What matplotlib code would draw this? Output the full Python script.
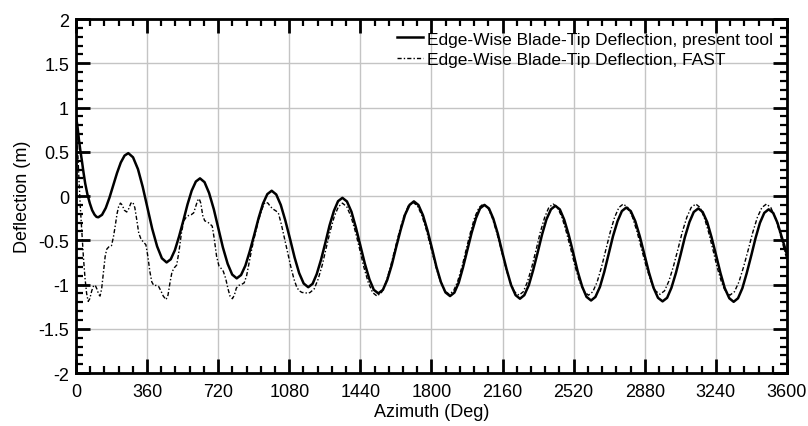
import matplotlib
matplotlib.use('Agg')
from matplotlib import pyplot as plt
from matplotlib.ticker import MultipleLocator

plt.rcParams['font.family'] = ['Liberation Sans', 'DejaVu Sans']
plt.rcParams['axes.unicode_minus'] = False

# edge-wise blade-tip deflection, present tool
tool_azimuth = [0, 7, 15, 22, 30, 38, 47, 58, 70, 82, 94, 104, 113,
                132, 151, 170, 189, 208, 227, 246, 265,
                289, 314, 338, 362, 386, 411, 435, 459,
                480, 501, 522, 544, 565, 586, 607, 628,
                651, 674, 698, 721, 744, 768, 791, 814,
                836, 858, 880, 903, 925, 947, 969, 991,
                1014, 1037, 1060, 1084, 1107, 1130, 1153, 1176,
                1198, 1219, 1241, 1263, 1284, 1306, 1327, 1349,
                1372, 1395, 1417, 1440, 1463, 1486, 1508, 1531,
                1554, 1576, 1599, 1621, 1644, 1666, 1689, 1711,
                1734, 1757, 1780, 1803, 1825, 1848, 1871, 1894,
                1916, 1938, 1959, 1981, 2003, 2025, 2046, 2068,
                2091, 2113, 2136, 2158, 2181, 2203, 2226, 2248,
                2270, 2293, 2315, 2338, 2360, 2382, 2405, 2427,
                2450, 2472, 2495, 2518, 2540, 2563, 2585, 2608,
                2630, 2653, 2675, 2697, 2719, 2742, 2764, 2786,
                2809, 2832, 2855, 2878, 2901, 2924, 2947, 2970,
                2993, 3015, 3038, 3061, 3083, 3106, 3128, 3151,
                3173, 3196, 3218, 3241, 3263, 3285, 3308, 3330,
                3352, 3374, 3396, 3419, 3441, 3463, 3485, 3507,
                3530, 3552, 3575, 3600]
tool_deflection = [0.90, 0.80, 0.64, 0.52, 0.40, 0.27, 0.14, 0.02, -0.08, -0.16, -0.21, -0.235, -0.24,
                   -0.212, -0.134, -0.016, 0.123, 0.261, 0.379, 0.457, 0.485,
                   0.438, 0.304, 0.104, -0.133, -0.369, -0.569, -0.703, -0.75,
                   -0.714, -0.611, -0.457, -0.275, -0.093, 0.061, 0.164, 0.20,
                   0.157, 0.035, -0.149, -0.365, -0.581, -0.765, -0.887, -0.93,
                   -0.892, -0.785, -0.624, -0.435, -0.246, -0.085, 0.022, 0.06,
                   0.018, -0.100, -0.276, -0.485, -0.694, -0.870, -0.988, -1.03,
                   -0.992, -0.882, -0.718, -0.525, -0.332, -0.168, -0.058, -0.02,
                   -0.061, -0.178, -0.353, -0.56, -0.767, -0.942, -1.059, -1.10,
                   -1.06, -0.948, -0.779, -0.58, -0.381, -0.212, -0.10, -0.06,
                   -0.101, -0.217, -0.39, -0.595, -0.80, -0.973, -1.089, -1.13,
                   -1.091, -0.979, -0.812, -0.615, -0.418, -0.251, -0.139, -0.10,
                   -0.14, -0.255, -0.427, -0.63, -0.833, -1.005, -1.12, -1.16,
                   -1.12, -1.006, -0.836, -0.635, -0.434, -0.264, -0.15, -0.11,
                   -0.151, -0.267, -0.44, -0.645, -0.85, -1.023, -1.139, -1.18,
                   -1.14, -1.026, -0.856, -0.655, -0.454, -0.284, -0.17, -0.13,
                   -0.17, -0.285, -0.457, -0.66, -0.863, -1.035, -1.15, -1.19,
                   -1.15, -1.036, -0.866, -0.665, -0.464, -0.294, -0.18, -0.14,
                   -0.18, -0.294, -0.466, -0.668, -0.869, -1.041, -1.155, -1.195,
                   -1.155, -1.042, -0.872, -0.673, -0.473, -0.303, -0.19, -0.15,
                   -0.19, -0.304, -0.474, -0.66]

# edge-wise blade-tip deflection, FAST
fast_azimuth = [0, 8, 15, 22, 30, 38, 46, 54, 62, 70, 80, 90, 98, 106, 115, 122,
                130, 140, 148, 156, 168, 180, 190, 200, 208, 216, 225, 234, 245, 257,
                268, 278, 288, 298, 308, 318, 330, 342, 354, 364, 374, 384, 394, 406,
                418, 430, 442, 456, 466, 476, 486, 498, 510, 522, 534, 546, 558, 570,
                584, 596, 606, 616, 624, 632, 642, 652, 664, 676, 690, 700, 712, 724,
                736, 746, 758, 770, 780, 792, 802, 812, 824, 838, 852, 864, 876, 890,
                904, 916, 928, 940, 952, 962, 972, 985, 1000, 1014, 1026, 1040, 1056,
                1072, 1088, 1104, 1118, 1130, 1145, 1160, 1172, 1185,
                1206, 1226, 1247, 1267, 1288, 1308, 1329, 1349,
                1371, 1393, 1415, 1437, 1458, 1480, 1502, 1524,
                1547, 1570, 1592, 1615, 1638, 1661, 1683, 1706,
                1729, 1752, 1775, 1798, 1821, 1844, 1867, 1890,
                1912, 1933, 1955, 1976, 1998, 2019, 2041, 2062,
                2085, 2107, 2130, 2153, 2175, 2198, 2220, 2243,
                2265, 2286, 2308, 2330, 2351, 2373, 2394, 2416,
                2438, 2461, 2483, 2506, 2528, 2550, 2573, 2595,
                2617, 2639, 2661, 2683, 2705, 2727, 2749, 2771,
                2794, 2818, 2841, 2864, 2887, 2911, 2934, 2957,
                2980, 3002, 3025, 3048, 3070, 3093, 3115, 3138,
                3160, 3181, 3203, 3225, 3246, 3268, 3289, 3311,
                3334, 3357, 3380, 3404, 3427, 3450, 3473, 3496,
                3518, 3541, 3563, 3600]
fast_deflection = [0.90, 0.55, 0.20, -0.12, -0.42, -0.70, -0.93, -1.10, -1.19, -1.16, -1.07, -1.01, -1.01, -1.05, -1.11, -1.13,
                   -1.05, -0.85, -0.68, -0.60, -0.57, -0.56, -0.46, -0.32, -0.20, -0.12, -0.08, -0.10, -0.16, -0.18,
                   -0.14, -0.08, -0.07, -0.13, -0.27, -0.42, -0.49, -0.52, -0.55, -0.68, -0.85, -0.97, -1.01, -1.01,
                   -1.02, -1.07, -1.13, -1.17, -1.12, -0.98, -0.86, -0.81, -0.78, -0.62, -0.42, -0.28, -0.24, -0.22,
                   -0.21, -0.19, -0.12, -0.05, -0.03, -0.08, -0.22, -0.28, -0.29, -0.31, -0.34, -0.48, -0.68, -0.79,
                   -0.82, -0.85, -0.93, -1.05, -1.13, -1.16, -1.12, -1.04, -1.01, -1.00, -0.98, -0.90, -0.76, -0.60,
                   -0.46, -0.35, -0.25, -0.16, -0.09, -0.07, -0.08, -0.12, -0.15, -0.17, -0.20, -0.32, -0.48,
                   -0.64, -0.80, -0.94, -1.03, -1.07, -1.09, -1.09, -1.10, -1.09,
                   -1.05, -0.94, -0.78, -0.585, -0.39, -0.23, -0.12, -0.08,
                   -0.12, -0.234, -0.404, -0.605, -0.806, -0.976, -1.09, -1.13,
                   -1.09, -0.975, -0.803, -0.60, -0.397, -0.225, -0.11, -0.07,
                   -0.11, -0.222, -0.391, -0.59, -0.789, -0.958, -1.07, -1.11,
                   -1.071, -0.961, -0.795, -0.60, -0.405, -0.239, -0.129, -0.09,
                   -0.129, -0.241, -0.408, -0.605, -0.802, -0.969, -1.081, -1.12,
                   -1.081, -0.969, -0.802, -0.605, -0.408, -0.241, -0.129, -0.09,
                   -0.129, -0.241, -0.408, -0.605, -0.802, -0.969, -1.081, -1.12,
                   -1.081, -0.969, -0.802, -0.605, -0.408, -0.241, -0.129, -0.09,
                   -0.129, -0.239, -0.405, -0.60, -0.795, -0.961, -1.071, -1.11,
                   -1.071, -0.961, -0.795, -0.60, -0.405, -0.239, -0.129, -0.09,
                   -0.129, -0.241, -0.408, -0.605, -0.802, -0.969, -1.081, -1.12,
                   -1.081, -0.969, -0.802, -0.605, -0.408, -0.241, -0.129, -0.09,
                   -0.13, -0.245, -0.41, -0.72]

x_ticks = [0, 360, 720, 1080, 1440, 1800, 2160, 2520, 2880, 3240, 3600]
y_ticks = [-2, -1.5, -1, -0.5, 0, 0.5, 1, 1.5, 2]
y_tick_labels = ['-2', '-1.5', '-1', '-0.5', '0', '0.5', '1', '1.5', '2']

fig = plt.figure(figsize=(8.08, 4.27), dpi=100)
ax = fig.add_axes([0.094, 0.124, 0.880, 0.829])

ax.plot(tool_azimuth, tool_deflection, color='black', linewidth=1.8,
        label='Edge-Wise Blade-Tip Deflection, present tool')
ax.plot(fast_azimuth, fast_deflection, color='black', linewidth=1.0,
        linestyle=(0, (3, 1.5, 1, 1.5)),
        label='Edge-Wise Blade-Tip Deflection, FAST')

ax.set_xlim(0, 3600)
ax.set_ylim(-2, 2)
ax.set_xticks(x_ticks)
ax.set_xticklabels([str(t) for t in x_ticks])
ax.set_yticks(y_ticks)
ax.set_yticklabels(y_tick_labels)
ax.xaxis.set_minor_locator(MultipleLocator(72))
ax.yaxis.set_minor_locator(MultipleLocator(0.1))

ax.tick_params(which='both', direction='in', top=True, right=True, labelsize=13)
ax.tick_params(which='major', length=10, width=2)
ax.tick_params(axis='x', which='major', pad=7)
ax.tick_params(axis='y', which='major', pad=5)
ax.tick_params(which='minor', length=5, width=1.6)
for spine in ax.spines.values():
    spine.set_linewidth(2)

ax.grid(True, which='major', color='#c4c4c4', linewidth=1)
ax.set_axisbelow(True)

ax.set_xlabel('Azimuth (Deg)', fontsize=13, labelpad=2)
ax.set_ylabel('Deflection (m)', fontsize=13, labelpad=5)

ax.legend(loc='upper right', bbox_to_anchor=(0.985, 0.975), frameon=False,
          fontsize=12.5, handlelength=1.5, handletextpad=0.2, labelspacing=0.3,
          borderaxespad=0, borderpad=0.2)

plt.savefig('out.png', dpi=100)
plt.close()
